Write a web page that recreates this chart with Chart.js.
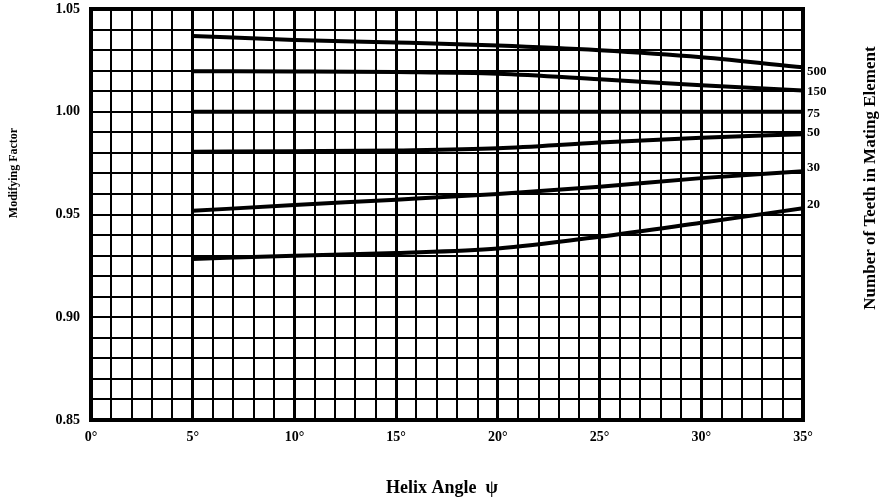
<!DOCTYPE html>
<html>
<head>
<meta charset="utf-8">
<script src="https://cdn.jsdelivr.net/npm/chart.js@4.4.0/dist/chart.umd.min.js"></script>
<style>
    html, body { margin: 0; padding: 0; background: #fff; }
    #wrap { width: 884px; height: 499px; }
</style>
</head>
<body>
<div id="wrap"><canvas id="grafico" width="884" height="499"></canvas></div>
<script>
// helix angle (deg) where the curves are read
var angles = [5, 10, 15, 20, 25, 30, 35];

// modifying factor, one curve per number of teeth in mating element
var teeth500 = [1.0369, 1.0349, 1.0337, 1.0322, 1.0299, 1.0265, 1.0216];
var teeth150 = [1.0197, 1.0196, 1.0193, 1.0185, 1.0158, 1.0129, 1.0104];
var teeth75 = [1.0000, 1.0000, 1.0000, 1.0000, 1.0000, 1.0000, 1.0000];
var teeth50 = [0.9805, 0.9808, 0.9812, 0.9822, 0.9850, 0.9873, 0.9891];
var teeth30 = [0.9518, 0.9546, 0.9572, 0.9600, 0.9635, 0.9677, 0.9711];
var teeth20 = [0.9284, 0.9299, 0.9313, 0.9335, 0.9392, 0.9460, 0.9530];

// curve labels on the right side and the factor they sit at
var teethLabels = ['500', '150', '75', '50', '30', '20'];
var teethLabelValues = [1.0193, 1.0096, 0.9993, 0.9896, 0.9726, 0.9546];

var fontSerif = "'Liberation Serif', 'DejaVu Serif', serif";

function toPoints(values) {
    return values.map(function (v, i) {
        return { x: angles[i], y: v };
    });
}

function curve(values) {
    return {
        data: toPoints(values),
        borderColor: '#000',
        borderWidth: 4,
        pointRadius: 0,
        fill: false,
        cubicInterpolationMode: 'monotone'
    };
}

// no extra room for overhanging tick labels, the area is fixed by hand
function noOverhang(axis) {
    axis.paddingTop = 0;
    axis.paddingBottom = 0;
    axis.paddingLeft = 0;
    axis.paddingRight = 0;
}

var frameAndTitles = {
    id: 'frameAndTitles',
    afterDraw: function (chart) {
        var ctx = chart.ctx;
        var a = chart.chartArea;
        ctx.save();
        ctx.strokeStyle = '#000';
        ctx.lineWidth = 4;
        ctx.strokeRect(a.left, a.top, a.right - a.left, a.bottom - a.top);

        ctx.fillStyle = '#000';
        ctx.textAlign = 'center';
        ctx.textBaseline = 'middle';

        ctx.font = 'bold 18px ' + fontSerif;
        ctx.fillText('Helix Angle  \u03c8', 442, 488);

        ctx.save();
        ctx.translate(14, 173);
        ctx.rotate(-Math.PI / 2);
        ctx.font = 'bold 12px ' + fontSerif;
        ctx.fillText('Modifying Factor', 0, 0);
        ctx.restore();

        ctx.save();
        ctx.translate(871, 178);
        ctx.rotate(-Math.PI / 2);
        ctx.font = 'bold 17px ' + fontSerif;
        ctx.fillText('Number of Teeth in Mating Element', 0, 0);
        ctx.restore();

        ctx.restore();
    }
};

var tickFont = { family: fontSerif, size: 14, weight: 'bold' };

var ctx = document.getElementById('grafico').getContext('2d');

var grafico = new Chart(ctx, {
    type: 'line',
    data: {
        datasets: [
            curve(teeth500),
            curve(teeth150),
            curve(teeth75),
            curve(teeth50),
            curve(teeth30),
            curve(teeth20)
        ]
    },
    options: {
        responsive: false,
        animation: false,
        devicePixelRatio: 1,
        layout: { padding: { top: 9, left: 0, right: 0, bottom: 0 } },
        plugins: {
            legend: { display: false },
            tooltip: { enabled: false }
        },
        scales: {
            x: {
                type: 'linear',
                min: 0,
                max: 35,
                border: { display: false },
                grid: {
                    color: '#000',
                    drawTicks: false,
                    lineWidth: function (c) {
                        return c.tick && c.tick.value % 5 === 0 ? 3 : 2;
                    }
                },
                ticks: {
                    stepSize: 1,
                    autoSkip: false,
                    maxRotation: 0,
                    padding: 9,
                    color: '#000',
                    font: tickFont,
                    callback: function (v) {
                        return v % 5 === 0 ? v + '\u00b0' : '';
                    }
                },
                afterFit: function (axis) {
                    axis.height = 79;
                    noOverhang(axis);
                }
            },
            y: {
                min: 0.85,
                max: 1.05,
                border: { display: false },
                grid: { color: '#000', drawTicks: false, lineWidth: 2 },
                ticks: {
                    stepSize: 0.01,
                    autoSkip: false,
                    padding: 11,
                    color: '#000',
                    font: tickFont,
                    callback: function (v) {
                        return Math.round(v * 1000) % 50 === 0 ? v.toFixed(2) : '';
                    }
                },
                afterFit: function (axis) {
                    axis.width = 91;
                    noOverhang(axis);
                }
            },
            y2: {
                position: 'right',
                min: 0.85,
                max: 1.05,
                border: { display: false },
                grid: { display: false, drawTicks: false },
                afterBuildTicks: function (axis) {
                    axis.ticks = teethLabelValues.map(function (v) { return { value: v }; });
                },
                ticks: {
                    autoSkip: false,
                    padding: 4,
                    color: '#000',
                    font: { family: fontSerif, size: 13, weight: 'bold' },
                    callback: function (v, i) { return teethLabels[i]; }
                },
                afterFit: function (axis) {
                    axis.width = 81;
                    noOverhang(axis);
                }
            }
        }
    },
    plugins: [frameAndTitles]
});
</script>
</body>
</html>
